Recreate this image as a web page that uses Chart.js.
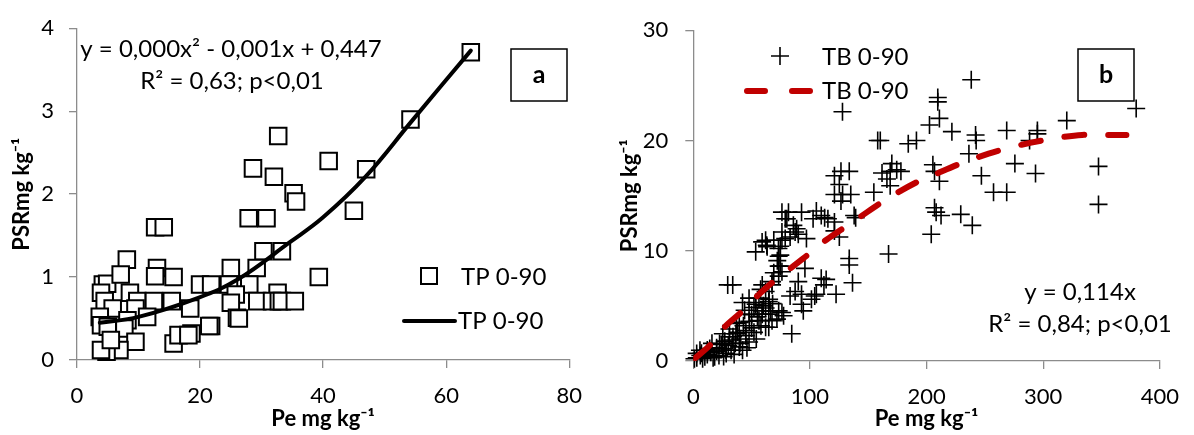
<!DOCTYPE html>
<html lang="pt">
<head>
    <meta charset="UTF-8">
    <title>PSR x Pe</title>
    <script src="https://cdn.jsdelivr.net/npm/chart.js"></script>
    <style>
        body {
            margin: 0;
            background: #fff;
            font-family: Lato, sans-serif;
        }
        .panel {
            position: absolute;
            top: 0;
            width: 597px;
            height: 435px;
        }
        #panelA { left: 0; }
        #panelB { left: 597px; }
    </style>
</head>
<body>
    <div class="panel" id="panelA"><canvas id="chartA" width="597" height="435"></canvas></div>
    <div class="panel" id="panelB"><canvas id="chartB" width="597" height="435"></canvas></div>

    <script>
        // ---- panel a : TP 0-90 ----
        const tpX = [64.0, 54.2, 40.9, 47.0, 45.0, 35.2, 35.6, 32.7, 28.6, 32.0,
                     27.9, 30.8, 12.7, 14.1, 30.3, 33.3, 39.3, 25.0, 29.2, 20.0,
                     21.8, 24.7, 28.0, 32.6, 25.8, 29.3, 31.7, 32.8, 33.3, 35.4,
                     25.0, 26.0, 26.3, 21.8, 18.6, 18.4, 8.1, 13.0, 15.7, 12.7,
                     4.2, 4.9, 7.1, 3.9, 8.6, 4.5, 5.8, 3.7, 3.9, 5.0,
                     9.8, 12.5, 15.4, 9.5, 11.4, 8.2, 7.7, 9.5, 6.9, 4.8,
                     3.9, 5.5, 21.5, 15.7, 16.5, 18.1];
        const tpY = [3.71, 2.90, 2.40, 2.30, 1.80, 2.01, 1.91, 2.70, 2.31, 2.21,
                     1.71, 1.71, 1.60, 1.60, 1.31, 1.31, 1.00, 1.11, 1.11, 0.91,
                     0.91, 0.91, 0.91, 0.81, 0.79, 0.71, 0.71, 0.71, 0.71, 0.71,
                     0.69, 0.51, 0.50, 0.41, 0.32, 0.62, 1.21, 1.11, 1.00, 1.01,
                     0.91, 0.92, 1.03, 0.81, 0.81, 0.71, 0.62, 0.52, 0.42, 0.40,
                     0.71, 0.71, 0.71, 0.62, 0.52, 0.48, 0.38, 0.22, 0.12, 0.10,
                     0.12, 0.24, 0.41, 0.20, 0.30, 0.30];
        // trend curve
        const tpFitX = [3.7, 10, 19.7, 26.1, 34.6, 40, 46.9, 54.4, 64];
        const tpFitY = [0.45, 0.52, 0.75, 0.97, 1.42, 1.72, 2.21, 2.88, 3.73];
        const tpXTicks = [0, 20, 40, 60, 80];
        const tpYTicks = [0, 1, 2, 3, 4];

        // ---- panel b : TB 0-90 ----
        const tbX = [238.3, 209.6, 209.6, 211, 202.5, 221.7, 242, 242.5, 268.7, 295,
                     295, 288.3, 160.3, 184.3, 191.3, 236.3, 275.7, 293.4, 170.2, 168.8,
                     174.4, 178, 166, 168.8, 205.4, 206.8, 211, 247, 257.4, 268.7,
                     206.8, 208.2, 212.4, 229.3, 239.2, 204, 167.4, 379.7, 320.2, 347.4,
                     347.4, 127.9, 158.1,
                     126.6, 133.7, 121, 125.2, 121, 128, 135, 126.6, 154.8, 161.8,
                     76, 81.6, 92.8, 105.5, 109.7, 80.2, 102.7, 115.4, 121, 139.2,
                     85.8, 88.6, 90, 97, 76, 83, 62, 63.3, 69, 76,
                     73, 53.5, 74.6, 125.2, 133.7, 121, 137.9, 112.6, 78.8, 87.3,
                     78.8, 74.6,
                     133.7, 136.5, 113.9, 122.4, 105.5, 101.3, 95.7, 90, 87.3, 83,
                     92.8, 84.4, 29.5, 33.8, 73.2, 72, 73.2, 76, 59.1, 57.7,
                     67.5, 92.8, 104.1, 109.7, 112, 94.3, 47.8, 42.2, 53.5, 52,
                     47.8, 59.1, 66.2, 71.7, 64.7, 76, 56.3, 39.4, 31, 25.3,
                     36.6, 45.1, 33.8, 22.5, 39.4, 47.8, 14.1, 5.7, 2.9, 9.9,
                     1, 18.3, 28.2, 25.3, 32.4, 42.2, 59, 63, 77.4, 74.6,
                     69, 73.2, 67.5, 62, 56.3, 64.7, 53.5, 59, 64.7, 73.2,
                     67.5, 62,
                     3, 6, 8, 12, 15, 17, 20, 22, 24, 27,
                     30, 34, 36, 38, 40, 43, 45, 48, 50, 52,
                     55, 58, 60, 62, 65, 68, 44, 50, 26, 35,
                     40, 31, 28, 20, 12, 7, 16, 46, 54, 37];
        const tbY = [25.5, 23.9, 23.5, 22.0, 21.4, 20.8, 20.5, 20.0, 20.9, 20.9,
                     20.6, 20.0, 20.0, 19.7, 20.0, 18.8, 17.9, 17.0, 17.9, 17.2,
                     17.35, 17.2, 16.5, 15.9, 17.8, 17.2, 16.3, 16.8, 15.3, 15.3,
                     13.9, 13.5, 13.2, 13.3, 12.3, 11.5, 9.7, 22.9, 21.8, 17.65,
                     14.2, 22.6, 20.0,
                     17.2, 17.2, 16.8, 16.0, 15.1, 15.1, 15.1, 14.5, 15.3, 17.05,
                     13.5, 13.5, 13.5, 13.6, 13.2, 12.9, 12.9, 12.9, 12.6, 13.0,
                     12.3, 12.0, 11.5, 11.1, 11.7, 11.25, 10.95, 10.36, 10.95, 10.95,
                     10.2, 9.9, 9.6, 11.25, 9.3, 11.8, 13.2, 13.0, 12.9, 11.7,
                     11.1, 10.4,
                     8.7, 7.1, 7.4, 6.05, 6.05, 5.6, 8.4, 7.2, 6.3, 5.9,
                     5.15, 2.47, 6.9, 6.9, 9.5, 9.1, 8.6, 8.1, 6.9, 6.5,
                     6.9, 6.05, 5.9, 7.5, 6.9, 4.55, 5.7, 5.3, 5.3, 4.85,
                     4.25, 4.25, 4.55, 3.8, 3.06, 4.4, 3.66, 3.5, 2.9, 2.47,
                     2.47, 2.77, 1.9, 1.58, 1.28, 1.72, 1.13, 0.98, 0.69, 0.38,
                     0.2, 0.38, 0.69, 1.13, 0.98, 0.98, 10.8, 10.5, 4.1, 8.6,
                     8.0, 7.7, 7.2, 6.3, 5.7, 5.4, 5.15, 4.55, 4.25, 4.55,
                     3.66, 3.06,
                     0.3, 0.5, 0.2, 0.6, 0.8, 0.3, 0.9, 0.5, 1.5, 1.8,
                     1.4, 2.2, 1.6, 2.6, 2.0, 3.2, 2.3, 3.6, 3.0, 2.6,
                     4.0, 3.2, 5.0, 4.8, 5.6, 5.2, 4.6, 4.2, 0.4, 0.6,
                     1.6, 2.2, 1.0, 1.2, 1.0, 0.7, 1.6, 1.2, 2.0, 3.4];
        const tbFitX = [1.4, 14, 26.6, 40.8, 54.9, 67.5, 94.3, 109.7, 123.8, 140.7,
                        166, 191.3, 206.8, 226.5, 253.2, 272.9, 289.8, 309.5, 333.3, 351.6, 371.3];
        const tbFitY = [0.24, 1.4, 3.06, 4.4, 5.9, 7.1, 9.3, 10.65, 11.7, 12.9,
                        14.7, 16.2, 16.9, 17.8, 18.8, 19.4, 19.8, 20.2, 20.5, 20.5, 20.5];
        const tbXTicks = [0, 100, 200, 300, 400];
        const tbYTicks = [0, 10, 20, 30];

        const toPoints = (xs, ys) => xs.map((x, i) => ({ x: x, y: ys[i] }));

        const AXIS_GREY = '#8c8c8c';
        const tickFont = { family: 'Lato', size: 22 };
        const titleFont = { family: 'Lato', size: 22, weight: 'bold' };
        const NOTE_FONT = '24px Lato';

        function axis(ticks, opts) {
            return {
                type: 'linear',
                position: opts.position,
                min: ticks[0],
                max: ticks[ticks.length - 1],
                afterBuildTicks: s => { s.ticks = ticks.map(v => ({ value: v })); },
                afterFit: s => {
                    if (opts.width) s.width = opts.width;
                    if (opts.height) s.height = opts.height;
                },
                border: { color: AXIS_GREY, width: 1.3 },
                grid: { drawOnChartArea: false, drawTicks: true, tickLength: 8, color: AXIS_GREY, lineWidth: 1.3 },
                ticks: { font: tickFont, color: '#000', padding: opts.pad },
                title: { display: true, text: opts.title, font: titleFont, color: '#000', padding: opts.titlePad }
            };
        }

        function letterBox(ctx, letter, x, y, w, h) {
            ctx.fillStyle = '#fff';
            ctx.fillRect(x, y, w, h);
            ctx.strokeStyle = '#000';
            ctx.lineWidth = 1.5;
            ctx.strokeRect(x, y, w, h);
            ctx.fillStyle = '#000';
            ctx.font = 'bold 25px Lato';
            ctx.textAlign = 'center';
            ctx.textBaseline = 'middle';
            ctx.fillText(letter, x + w / 2, y + h / 2);
        }

        const notesA = {
            id: 'notesA',
            afterDatasetsDraw(chart) {
                const ctx = chart.ctx;
                ctx.save();
                ctx.fillStyle = '#000';
                ctx.font = NOTE_FONT;
                ctx.textBaseline = 'alphabetic';
                ctx.textAlign = 'center';
                ctx.fillText('y = 0,000x² - 0,001x + 0,447', 231, 57);
                ctx.fillText('R² = 0,63; p<0,01', 232, 89);

                letterBox(ctx, 'a', 511, 49, 56, 52);

                // legend
                ctx.strokeStyle = '#000';
                ctx.lineWidth = 2;
                ctx.fillStyle = '#fff';
                ctx.fillRect(421, 268, 16, 16);
                ctx.strokeRect(421, 268, 16, 16);
                ctx.lineWidth = 4;
                ctx.lineCap = 'round';
                ctx.beginPath();
                ctx.moveTo(404, 321);
                ctx.lineTo(455, 321);
                ctx.stroke();
                ctx.fillStyle = '#000';
                ctx.font = NOTE_FONT;
                ctx.textAlign = 'left';
                ctx.textBaseline = 'middle';
                ctx.fillText('TP 0-90', 461, 277);
                ctx.fillText('TP 0-90', 458, 321);
                ctx.restore();
            }
        };

        const notesB = {
            id: 'notesB',
            afterDatasetsDraw(chart) {
                const ctx = chart.ctx;
                ctx.save();
                ctx.fillStyle = '#000';
                ctx.font = NOTE_FONT;
                ctx.textBaseline = 'alphabetic';
                ctx.textAlign = 'center';
                ctx.fillText('y = 0,114x', 483, 300);
                ctx.fillText('R² = 0,84; p<0,01', 483, 332);

                letterBox(ctx, 'b', 481, 49, 56, 52);

                // legend
                ctx.strokeStyle = '#000';
                ctx.lineWidth = 1.6;
                ctx.beginPath();
                ctx.moveTo(183, 47); ctx.lineTo(183, 65);
                ctx.moveTo(174, 56); ctx.lineTo(192, 56);
                ctx.stroke();
                ctx.strokeStyle = '#c00000';
                ctx.lineWidth = 6;
                ctx.lineCap = 'round';
                ctx.beginPath();
                ctx.moveTo(150, 91); ctx.lineTo(168, 91);
                ctx.moveTo(195, 91); ctx.lineTo(213, 91);
                ctx.stroke();
                ctx.fillStyle = '#000';
                ctx.font = NOTE_FONT;
                ctx.textAlign = 'left';
                ctx.textBaseline = 'middle';
                ctx.fillText('TB 0-90', 225, 57);
                ctx.fillText('TB 0-90', 225, 91);
                ctx.restore();
            }
        };

        const common = {
            responsive: false,
            animation: false,
            plugins: { legend: { display: false }, tooltip: { enabled: false } }
        };

        new Chart(document.getElementById('chartA'), {
            type: 'scatter',
            data: {
                datasets: [
                    {
                        label: 'TP 0-90',
                        type: 'line',
                        data: toPoints(tpFitX, tpFitY),
                        borderColor: '#000',
                        borderWidth: 4,
                        pointRadius: 0,
                        tension: 0.4,
                        borderCapStyle: 'round',
                        fill: false
                    },
                    {
                        label: 'TP 0-90',
                        data: toPoints(tpX, tpY),
                        pointStyle: 'rect',
                        pointRadius: 11.7,
                        borderWidth: 2,
                        borderColor: '#000',
                        backgroundColor: '#fff',
                        clip: false
                    }
                ]
            },
            options: Object.assign({}, common, {
                layout: { padding: { top: 22, right: 20, left: 0, bottom: 0 } },
                scales: {
                    x: axis(tpXTicks, { position: 'bottom', height: 75, pad: 15, title: 'Pe mg kg⁻¹', titlePad: { top: 0, bottom: 3 } }),
                    y: axis(tpYTicks, { position: 'left', width: 77, pad: 15, title: 'PSRmg kg⁻¹', titlePad: { top: 9, bottom: 0 } })
                }
            }),
            plugins: [notesA]
        });

        new Chart(document.getElementById('chartB'), {
            type: 'scatter',
            data: {
                datasets: [
                    {
                        label: 'TB 0-90',
                        type: 'line',
                        data: toPoints(tbFitX, tbFitY),
                        borderColor: '#c00000',
                        borderWidth: 6,
                        borderDash: [20, 24],
                        borderCapStyle: 'round',
                        pointRadius: 0,
                        tension: 0.3,
                        fill: false
                    },
                    {
                        label: 'TB 0-90',
                        data: toPoints(tbX, tbY),
                        pointStyle: 'cross',
                        pointRadius: 9,
                        borderWidth: 1.6,
                        borderColor: '#000',
                        clip: false
                    }
                ]
            },
            options: Object.assign({}, common, {
                layout: { padding: { top: 25, right: 26.7, left: 0, bottom: 0 } },
                scales: {
                    x: axis(tbXTicks, { position: 'bottom', height: 74, pad: 15, title: 'Pe mg kg⁻¹', titlePad: { top: 0, bottom: 3 } }),
                    y: axis(tbYTicks, { position: 'left', width: 96.3, pad: 17, title: 'PSRmg kg⁻¹', titlePad: { top: 20, bottom: 0 } })
                }
            }),
            plugins: [notesB]
        });
    </script>
</body>
</html>
